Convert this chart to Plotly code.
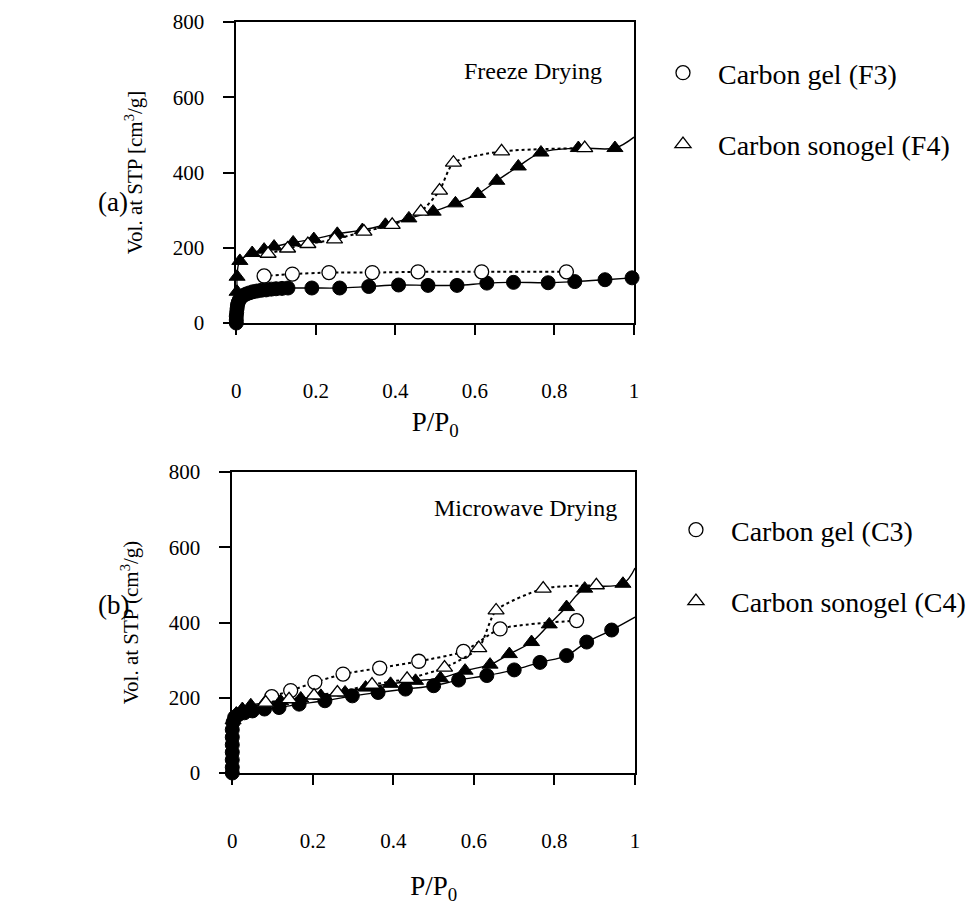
import plotly.graph_objects as go

# ---------------- data: panel (a) Freeze Drying ----------------
x_ticks = [0, 0.2, 0.4, 0.6, 0.8, 1]
x_ticklabels = ["0", "0.2", "0.4", "0.6", "0.8", "1"]
y_ticks = [0, 200, 400, 600, 800]
y_ticklabels = ["0", "200", "400", "600", "800"]

F3_ads_x = [0.0, 0.0, 0.0, 0.001, 0.002, 0.003, 0.005, 0.008, 0.012, 0.018, 0.025, 0.033,
            0.042, 0.052, 0.063, 0.075, 0.088, 0.10, 0.115, 0.13, 0.19, 0.26, 0.333, 0.408,
            0.482, 0.555, 0.63, 0.697, 0.784, 0.851, 0.927, 0.995]
F3_ads_y = [0, 8, 18, 28, 38, 47, 55, 62, 68, 73, 77, 80, 83, 85, 87, 88, 90, 91, 92, 93,
            93, 93, 97, 101, 100, 100, 106, 108, 107, 110, 115, 120]
F3_des_x = [0.830, 0.617, 0.457, 0.342, 0.233, 0.141, 0.070]
F3_des_y = [136, 136, 136, 134, 134, 130, 125]

F4_ads_x = [0.002, 0.002, 0.009, 0.040, 0.070, 0.095, 0.143, 0.195, 0.254, 0.317, 0.375,
            0.434, 0.495, 0.551, 0.607, 0.655, 0.709, 0.766, 0.860, 0.952]
F4_ads_y = [83, 123, 165, 186, 195, 203, 214, 223, 237, 247, 261, 278, 296, 318, 343, 378,
            416, 453, 465, 465]
F4_ads_end = (1.0, 494)
F4_des_x = [0.876, 0.667, 0.546, 0.511, 0.464, 0.392, 0.321, 0.247, 0.180, 0.129, 0.080]
F4_des_y = [465, 456, 426, 352, 296, 261, 243, 222, 210, 198, 184]

# ---------------- data: panel (b) Microwave Drying ----------------
C3_ads_x = [0.0, 0.0, 0.0, 0.0, 0.0, 0.0, 0.0, 0.002, 0.006, 0.015, 0.03, 0.05, 0.08, 0.116,
            0.166, 0.230, 0.298, 0.362, 0.43, 0.50, 0.562, 0.632, 0.70, 0.764, 0.830, 0.880,
            0.942]
C3_ads_y = [0, 15, 35, 55, 75, 95, 115, 135, 148, 155, 160, 165, 170, 174, 183, 192, 205,
            214, 223, 232, 247, 259, 274, 294, 312, 348, 380]
C3_ads_end = (1.0, 414)
C3_des_x = [0.855, 0.665, 0.574, 0.463, 0.366, 0.275, 0.205, 0.145, 0.098]
C3_des_y = [405, 383, 323, 297, 279, 263, 241, 219, 203]

C4_ads_x = [0.002, 0.010, 0.025, 0.046, 0.08, 0.12, 0.17, 0.22, 0.28, 0.331, 0.393, 0.455,
            0.517, 0.578, 0.640, 0.688, 0.743, 0.787, 0.830, 0.875, 0.970]
C4_ads_y = [140, 158, 170, 180, 186, 191, 198, 205, 214, 227, 237, 245, 252, 272, 288, 316,
            348, 395, 441, 490, 503]
C4_ads_end = (1.0, 545)
C4_des_x = [0.904, 0.772, 0.655, 0.612, 0.527, 0.434, 0.347, 0.261, 0.203, 0.141, 0.083]
C4_des_y = [499, 490, 432, 332, 280, 250, 235, 214, 206, 196, 187]

FONT = "Liberation Serif"
W, H = 971, 905

fig = go.Figure()


def add_series(ads_x, ads_y, ads_end, des_x, des_y, symbol, name, xa, ya, legend, msize):
    lx = list(ads_x) + ([ads_end[0]] if ads_end else [])
    ly = list(ads_y) + ([ads_end[1]] if ads_end else [])
    fig.add_trace(go.Scatter(x=lx, y=ly, mode="lines", xaxis=xa, yaxis=ya,
                             line=dict(color="black", width=1.4, shape="spline", smoothing=1),
                             showlegend=False, cliponaxis=False, hoverinfo="skip"))
    fig.add_trace(go.Scatter(x=ads_x, y=ads_y, mode="markers", xaxis=xa, yaxis=ya,
                             marker=dict(symbol=symbol, size=msize, color="black",
                                         line=dict(color="black", width=1)),
                             showlegend=False, cliponaxis=False))
    fig.add_trace(go.Scatter(x=des_x, y=des_y, mode="lines", xaxis=xa, yaxis=ya,
                             line=dict(color="black", width=2, dash="3px,3px",
                                       shape="spline", smoothing=0.6),
                             showlegend=False, cliponaxis=False, hoverinfo="skip"))
    fig.add_trace(go.Scatter(x=des_x, y=des_y, mode="markers", xaxis=xa, yaxis=ya,
                             name=name, legend=legend, legendgroup=name,
                             marker=dict(symbol=symbol, size=msize, color="white",
                                         line=dict(color="black", width=1.3)),
                             cliponaxis=False))


add_series(F3_ads_x, F3_ads_y, None, F3_des_x, F3_des_y, "circle", "Carbon gel (F3)",
           "x", "y", "legend", 14)
add_series(F4_ads_x, F4_ads_y, F4_ads_end, F4_des_x, F4_des_y, "triangle-up",
           "Carbon sonogel (F4)", "x", "y", "legend", 14)
add_series(C3_ads_x, C3_ads_y, C3_ads_end, C3_des_x, C3_des_y, "circle", "Carbon gel (C3)",
           "x2", "y2", "legend2", 14)
add_series(C4_ads_x, C4_ads_y, C4_ads_end, C4_des_x, C4_des_y, "triangle-up",
           "Carbon sonogel (C4)", "x2", "y2", "legend2", 14)


def px_x(p):
    return p / W


def px_y(p):
    return 1 - p / H


common_x = dict(range=[0, 1], tickvals=x_ticks, ticktext=x_ticklabels, showline=True,
                mirror=True, linecolor="black", linewidth=1.5, ticks="outside", ticklen=10,
                tickwidth=1.5, tickcolor="black", showgrid=False, zeroline=False,
                tickfont=dict(family=FONT, size=21, color="black"), automargin=False,
                ticklabelstandoff=38)
common_y = dict(range=[0, 800], tickvals=y_ticks, ticktext=y_ticklabels, showline=True,
                mirror=True, linecolor="black", linewidth=1.5, ticks="outside", ticklen=12,
                tickwidth=1.5, tickcolor="black", showgrid=False, zeroline=False,
                tickfont=dict(family=FONT, size=21, color="black"), automargin=False,
                ticklabelstandoff=14)

LEG_FONT = dict(family=FONT, size=28, color="black")

fig.update_layout(
    width=W, height=H, autosize=False,
    margin=dict(l=0, r=0, t=0, b=0),
    paper_bgcolor="white", plot_bgcolor="white",
    font=dict(family=FONT, color="black"),
    xaxis=dict(common_x, domain=[px_x(237), px_x(636)], anchor="y",
               title=dict(text="P/P<sub>0</sub>", font=dict(family=FONT, size=27), standoff=10)),
    yaxis=dict(common_y, domain=[px_y(323), px_y(22)], anchor="x",
               title=dict(text="Vol. at STP [cm<sup>3</sup>/g]", font=dict(family=FONT, size=21),
                          standoff=24)),
    xaxis2=dict(common_x, domain=[px_x(233), px_x(637)], anchor="y2",
                title=dict(text="P/P<sub>0</sub>", font=dict(family=FONT, size=27), standoff=52)),
    yaxis2=dict(common_y, domain=[px_y(773), px_y(472)], anchor="x2",
                title=dict(text="Vol. at STP (cm<sup>3</sup>/g)", font=dict(family=FONT, size=21),
                           standoff=24)),
    legend=dict(x=px_x(650), y=px_y(48), xanchor="left", yanchor="top",
                font=LEG_FONT, bgcolor="rgba(0,0,0,0)",
                itemwidth=60, tracegroupgap=32),
    legend2=dict(x=px_x(663), y=px_y(505), xanchor="left", yanchor="top",
                 font=LEG_FONT, bgcolor="rgba(0,0,0,0)",
                 itemwidth=60, tracegroupgap=32),
    annotations=[
        dict(text="Freeze Drying", x=px_x(535), y=px_y(56), xref="paper", yref="paper",
             showarrow=False, font=dict(family=FONT, size=24)),
        dict(text="Microwave Drying", x=px_x(527), y=px_y(508), xref="paper", yref="paper",
             showarrow=False, font=dict(family=FONT, size=24)),
        dict(text="(a)", x=px_x(96), y=px_y(185), xref="paper", yref="paper",
             showarrow=False, font=dict(family=FONT, size=27)),
        dict(text="(b)", x=px_x(96), y=px_y(622), xref="paper", yref="paper",
             showarrow=False, font=dict(family=FONT, size=27)),
    ],
)

fig.write_html("out.html")
